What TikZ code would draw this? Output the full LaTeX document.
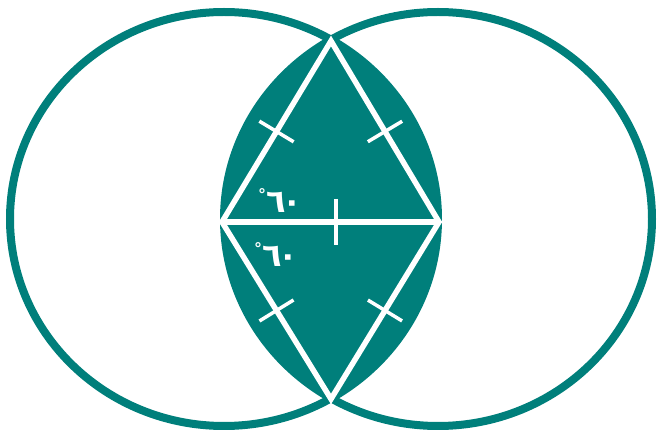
\documentclass[tikz,border=0pt]{standalone}
\usepackage{fontspec}
\newfontfamily\arabicfont{DejaVu Sans}
\usetikzlibrary{calc}
\definecolor{teal1}{RGB}{0,127,123}
\newcommand{\sixty}{{\fontsize{16}{16}\selectfont\raisebox{12pt}{°}}\kern0pt ٦\kern-3pt ٠}
\tikzset{
  ring/.style={draw=teal1, line width=8pt},
  edge/.style={draw=white, line width=5.5pt, line join=miter},
  tick/.style={draw=white, line width=3.5pt},
  anglab/.style={text=white, font=\arabicfont\bfseries\fontsize{32}{34}\selectfont, inner sep=0pt, anchor=base west}
}
\begin{document}
\begin{tikzpicture}[x=1pt,y=-1pt]
\useasboundingbox (0,0) rectangle (657,438);
% lens
\begin{scope}
  \clip (224,219) ellipse [x radius=214, y radius=207];
  \fill[teal1] (438,219) ellipse [x radius=214, y radius=207];
\end{scope}
\draw[ring] (224,219) ellipse [x radius=214, y radius=207];
\draw[ring] (438,219) ellipse [x radius=214, y radius=207];
% rhombus vertices
\coordinate (T) at (331,41);
\coordinate (B) at (331,399);
\coordinate (L) at (222,222);
\coordinate (R) at (439,222);
\draw[edge] (L) -- (T) -- (R) -- (B) -- cycle;
\draw[edge] (L) -- (R);
% ticks
\draw[tick] ($(L)!0.5!(T)!20pt!90:(T)$) -- ($(L)!0.5!(T)!20pt!-90:(T)$);
\draw[tick] ($(R)!0.5!(T)!20pt!90:(T)$) -- ($(R)!0.5!(T)!20pt!-90:(T)$);
\draw[tick] ($(L)!0.5!(B)!20pt!90:(B)$) -- ($(L)!0.5!(B)!20pt!-90:(B)$);
\draw[tick] ($(R)!0.5!(B)!20pt!90:(B)$) -- ($(R)!0.5!(B)!20pt!-90:(B)$);
\draw[tick] ($(L)!0.525!(R)!23pt!90:(R)$) -- ($(L)!0.525!(R)!23pt!-90:(R)$);
% labels
\node[anglab] (a1) at (258,213) {\sixty};
\node[anglab] (a2) at (254,267) {\sixty};
\end{tikzpicture}
\end{document}
